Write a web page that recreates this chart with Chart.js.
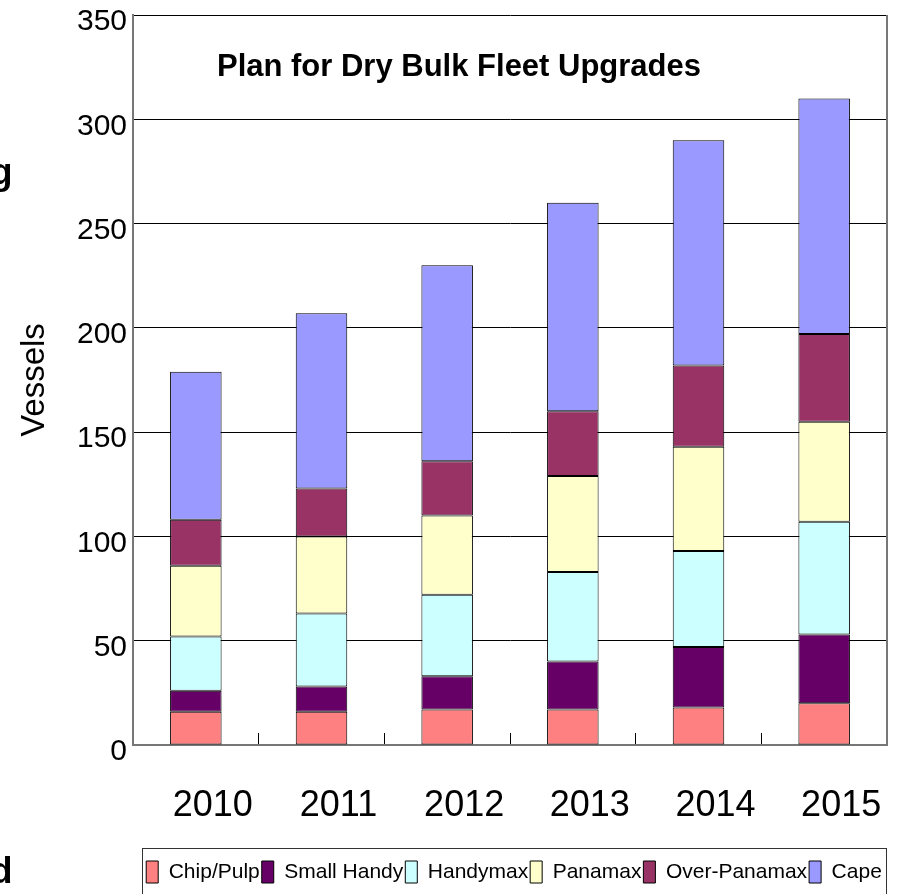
<!DOCTYPE html>
<html>
<head>
<meta charset="utf-8">
<script src="https://cdn.jsdelivr.net/npm/chart.js@4.4.1/dist/chart.umd.min.js"></script>
<style>
  html, body { margin: 0; padding: 0; background: #fff; }
  #wrap { width: 897px; height: 894px; }
</style>
</head>
<body>
<div id="wrap"><canvas id="fleet" width="897" height="894"></canvas></div>
<script>
// data (vessels per year, stacked)
const years = ['2010', '2011', '2012', '2013', '2014', '2015'];
const chipPulp    = [16, 16, 17, 17, 18, 20];
const smallHandy  = [10, 12, 16, 23, 29, 33];
const handymax    = [26, 35, 39, 43, 46, 54];
const panamax     = [34, 37, 38, 46, 50, 48];
const overPanamax = [22, 23, 26, 31, 39, 42];
const cape        = [71, 84, 94, 100, 108, 113];
const yTicks = [0, 50, 100, 150, 200, 250, 300, 350];

const FONT = "'Liberation Sans', Arial, sans-serif";

function series(label, data, color) {
  return {
    label: label,
    data: data,
    backgroundColor: color,
    borderColor: '#000',
    borderWidth: 1,
    borderSkipped: false,
    barPercentage: 0.41,
    categoryPercentage: 1
  };
}

// title inside the plot, frame, legend border and the clipped text on the left edge
const decorations = {
  id: 'decorations',
  afterLayout(chart) {
    const lg = chart.legend;
    lg.left = 142;
    lg.right = 886;
  },
  afterDraw(chart) {
    const { ctx, chartArea } = chart;
    ctx.save();
    // right edge of the plot frame
    ctx.strokeStyle = '#777';
    ctx.lineWidth = 2;
    ctx.beginPath();
    ctx.moveTo(chartArea.right, chartArea.top);
    ctx.lineTo(chartArea.right, chartArea.bottom);
    ctx.stroke();

    // title
    ctx.fillStyle = '#000';
    ctx.font = 'bold 31px ' + FONT;
    ctx.textAlign = 'center';
    ctx.textBaseline = 'middle';
    ctx.fillText('Plan for Dry Bulk Fleet Upgrades', chartArea.left + 326, chartArea.top + 52);

    // legend frame
    const lg = chart.legend;
    ctx.strokeStyle = '#333';
    ctx.lineWidth = 1;
    ctx.strokeRect(Math.round(lg.left) + 0.5, Math.round(lg.top) - 10.5, lg.right - lg.left, 80);

    // clipped letters at the left border
    ctx.font = 'bold 36px ' + FONT;
    ctx.textAlign = 'right';
    ctx.textBaseline = 'alphabetic';
    ctx.fillText('g', 12.5, 184);
    ctx.fillText('d', 12.5, 883);
    ctx.restore();
  }
};

new Chart(document.getElementById('fleet'), {
  type: 'bar',
  data: {
    labels: years,
    datasets: [
      series('Chip/Pulp', chipPulp, '#FF8080'),
      series('Small Handy', smallHandy, '#660066'),
      series('Handymax', handymax, '#CCFFFF'),
      series('Panamax', panamax, '#FFFFCC'),
      series('Over-Panamax', overPanamax, '#993366'),
      series('Cape', cape, '#9999FF')
    ]
  },
  options: {
    responsive: false,
    animation: false,
    layout: { padding: { top: 15, right: 10, left: 0, bottom: 1 } },
    plugins: {
      title: { display: false },
      tooltip: { enabled: false },
      legend: {
        position: 'bottom',
        align: 'center',
        labels: {
          boxWidth: 12,
          boxHeight: 22,
          padding: 2,
          color: '#000',
          font: { family: FONT, size: 21 }
        }
      }
    },
    scales: {
      x: {
        stacked: true,
        offset: true,
        grid: {
          offset: true,
          drawOnChartArea: false,
          drawTicks: true,
          tickLength: -12,
          color: '#000'
        },
        border: { color: '#777', width: 2 },
        ticks: {
          color: '#000',
          padding: 51,
          labelOffset: 17,
          font: { family: FONT, size: 36 }
        },
        afterFit(axis) {
          axis.height = 114;
          axis.paddingLeft = 0;
          axis.paddingRight = 0;
        }
      },
      y: {
        stacked: true,
        min: 0,
        max: 350,
        afterBuildTicks(axis) {
          axis.ticks = yTicks.map(v => ({ value: v }));
        },
        grid: { color: '#000', lineWidth: 1, drawTicks: false },
        border: { color: '#777', width: 2 },
        ticks: {
          color: '#000',
          padding: 6,
          labelOffset: 7,
          font: { family: FONT, size: 30 }
        },
        title: {
          display: true,
          text: 'Vessels',
          color: '#000',
          padding: { top: 15, bottom: 0 },
          font: { family: FONT, size: 33 }
        },
        afterFit(axis) {
          axis.width = 133;
          axis.paddingTop = 0;
          axis.paddingBottom = 0;
        }
      }
    }
  },
  plugins: [decorations]
});
</script>
</body>
</html>
